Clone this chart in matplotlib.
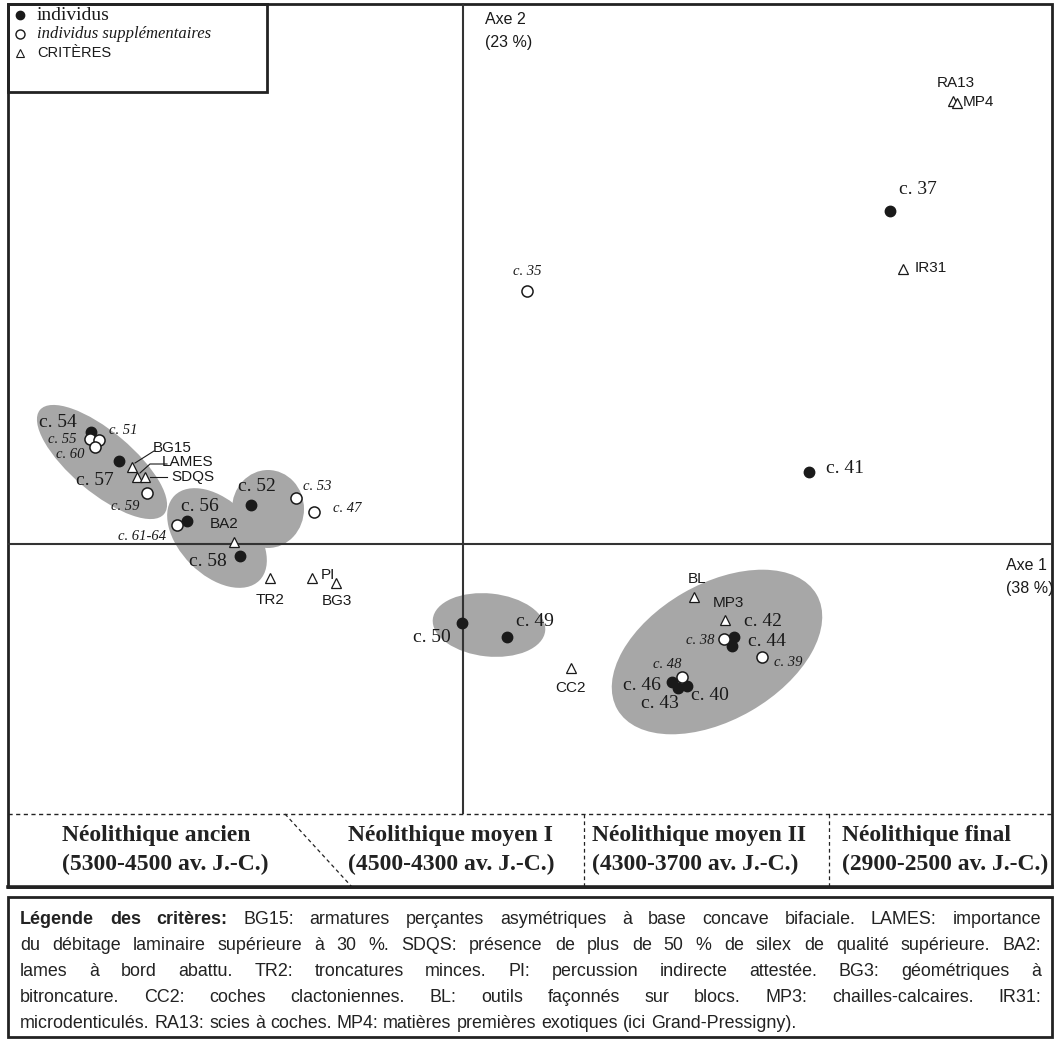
import matplotlib
matplotlib.use('Agg')
import matplotlib.pyplot as plt
from matplotlib.patches import Ellipse, Rectangle

# ---------------- data (factor scores, axis units) ----------------
ind_names = ['c. 37', 'c. 41', 'c. 54', 'c. 57', 'c. 56', 'c. 52', 'c. 58', 'c. 50', 'c. 49',
             'c. 42', 'c. 44', 'c. 46', 'c. 43', 'c. 40']
ind_x = [4.27, 3.46, -3.72, -3.44, -2.76, -2.12, -2.23, -0.01, 0.44, 2.71, 2.69, 2.09, 2.15, 2.24]
ind_y = [3.33, 0.72, 1.12, 0.83, 0.23, 0.39, -0.12, -0.79, -0.93, -0.93, -1.02, -1.38, -1.44, -1.42]

sup_names = ['c. 35', 'c. 55', 'c. 51', 'c. 60', 'c. 59', 'c. 53', 'c. 47', 'c. 61-64',
             'c. 38', 'c. 39', 'c. 48']
sup_x = [0.64, -3.73, -3.64, -3.68, -3.16, -1.67, -1.49, -2.86, 2.61, 2.99, 2.19]
sup_y = [2.53, 1.05, 1.04, 0.97, 0.51, 0.46, 0.32, 0.19, -0.95, -1.13, -1.33]

crit_names = ['BG15', 'LAMES', 'SDQS', 'BA2', 'TR2', 'PI', 'BG3', 'CC2', 'BL', 'MP3',
              'IR31', 'RA13', 'MP4']
crit_x = [-3.31, -3.26, -3.18, -2.29, -1.93, -1.51, -1.27, 1.08, 2.31, 2.62, 4.40, 4.90, 4.94]
crit_y = [0.77, 0.67, 0.67, 0.02, -0.34, -0.34, -0.39, -1.24, -0.53, -0.76, 2.75, 4.43, 4.41]

axis1_label = ['Axe 1', '(38 %)']
axis2_label = ['Axe 2', '(23 %)']

periods = ['Néolithique ancien', 'Néolithique moyen I', 'Néolithique moyen II', 'Néolithique final']
period_dates = ['(5300-4500 av. J.-C.)', '(4500-4300 av. J.-C.)', '(4300-3700 av. J.-C.)',
                '(2900-2500 av. J.-C.)']

legend_labels = ['individus', 'individus supplémentaires', 'CRITÈRES']

caption_head = 'Légende des critères:'
caption_lines = [
    'Légende des critères: BG15: armatures perçantes asymétriques à base concave bifaciale. LAMES: importance',
    'du débitage laminaire supérieure à 30 %. SDQS: présence de plus de 50 % de silex de qualité supérieure. BA2:',
    'lames à bord abattu. TR2: troncatures minces. PI: percussion indirecte attestée. BG3: géométriques à',
    'bitroncature. CC2: coches clactoniennes. BL: outils façonnés sur blocs. MP3: chailles-calcaires. IR31:',
    'microdenticulés. RA13: scies à coches. MP4: matières premières exotiques (ici Grand-Pressigny).',
]

# ---------------- layout / style ----------------
W, H = 1055, 1039
SERIF = 'Liberation Serif'
SANS = 'Liberation Sans'
INK = '#1a1a1a'
GREY = '#a7a7a7'

# label offsets in pixels (dx, dy with dy up)
ind_off = {'c. 37': (28, 21), 'c. 41': (36, 3), 'c. 54': (-33, 9), 'c. 57': (-24, -20),
           'c. 56': (13, 14), 'c. 52': (6, 18), 'c. 58': (-32, -6), 'c. 50': (-30, -15),
           'c. 49': (28, 15), 'c. 42': (29, 15), 'c. 44': (35, 5), 'c. 46': (-30, -3),
           'c. 43': (-18, -16), 'c. 40': (23, -9)}
sup_off = {'c. 35': (0, 19), 'c. 55': (-28, -1), 'c. 51': (24, 9), 'c. 60': (-25, -8),
           'c. 59': (-22, -14), 'c. 53': (21, 11), 'c. 47': (33, 3), 'c. 61-64': (-35, -12),
           'c. 38': (-24, -1), 'c. 39': (26, -5), 'c. 48': (-15, 12)}
crit_off = {'BG15': (40, 19), 'LAMES': (51, 15), 'SDQS': (48, 0), 'BA2': (-10, 18),
            'TR2': (0, -22), 'PI': (16, 3), 'BG3': (1, -18), 'CC2': (0, -20), 'BL': (3, 18),
            'MP3': (3, 17), 'IR31': (28, 1), 'RA13': (3, 18), 'MP4': (21, 1)}

# grey groupings (centre x, centre y, width, height, angle) in axis units
groups = [(-3.61, 0.82, 1.62, 0.61, -40), (-2.46, 0.06, 1.20, 0.74, -45),
          (-1.95, 0.35, 0.72, 0.78, 0), (0.26, -0.81, 1.13, 0.63, -6),
          (2.54, -1.08, 2.30, 1.36, 30)]

fig = plt.figure(figsize=(W / 100, H / 100), dpi=100)
bg = fig.add_axes([0, 0, 1, 1])
bg.set_xlim(0, W)
bg.set_ylim(H, 0)
bg.axis('off')

L, R, T, B = 8, 1052, 3, 814
ax = fig.add_axes([L / W, (H - B) / H, (R - L) / W, (B - T) / H])
ax.set_xlim(-4.55, 5.89)
ax.set_ylim(-2.70, 5.41)
ax.axis('off')

for cx, cy, w, h, a in groups:
    ax.add_patch(Ellipse((cx, cy), w, h, angle=a, facecolor=GREY, edgecolor='none', zorder=1))

ax.axhline(0, color='#333333', lw=1.5, zorder=2)
ax.axvline(0, color='#333333', lw=1.5, zorder=2)

ax.plot(ind_x, ind_y, 'o', ms=7.5, color=INK, zorder=4, ls='none')
ax.plot(sup_x, sup_y, 'o', ms=8, mfc='white', mec=INK, mew=1.1, zorder=5, ls='none')
ax.plot(crit_x, crit_y, '^', ms=7, mfc='white', mec=INK, mew=0.9, zorder=5, ls='none')

for n, x, y in zip(ind_names, ind_x, ind_y):
    ax.annotate(n, (x, y), xytext=ind_off[n], textcoords='offset pixels', ha='center',
                va='center', fontsize=14, family=SERIF, color=INK, zorder=6)
for n, x, y in zip(sup_names, sup_x, sup_y):
    ax.annotate(n, (x, y), xytext=sup_off[n], textcoords='offset pixels', ha='center',
                va='center', fontsize=10.5, family=SERIF, style='italic', color=INK, zorder=6)
for n, x, y in zip(crit_names, crit_x, crit_y):
    ax.annotate(n, (x, y), xytext=crit_off[n], textcoords='offset pixels', ha='center',
                va='center', fontsize=11, family=SANS, color=INK, zorder=6)

# leader lines for the crowded criteria
def leader(name, pts):
    i = crit_names.index(name)
    x0, y0 = crit_x[i], crit_y[i]
    xs = [x0 + dx / 100 for dx, dy in pts]
    ys = [y0 + dy / 100 for dx, dy in pts]
    ax.plot(xs, ys, color=INK, lw=0.8, zorder=6)

leader('BG15', [(3, 4), (22, 16)])
leader('LAMES', [(3, 4), (13, 13), (30, 13)])
leader('SDQS', [(5, 0), (22, 0)])

# axis titles
bg.text(485, 20, axis2_label[0], fontsize=11.5, family=SANS, color=INK, va='center')
bg.text(485, 43, axis2_label[1], fontsize=11.5, family=SANS, color=INK, va='center')
bg.text(1006, 565, axis1_label[0], fontsize=11.5, family=SANS, color=INK, va='center')
bg.text(1006, 588, axis1_label[1], fontsize=11.5, family=SANS, color=INK, va='center')

# frames
bg.add_patch(Rectangle((L, 4), R - L, 883, fill=False, lw=2, ec='#222222'))
bg.plot([L, R], [887, 887], color='#222222', lw=2.6)
bg.plot([L, R], [B, B], color='#222222', lw=1, ls=(0, (3, 2.5)))
bg.plot([285, 352], [B, 887], color='#222222', lw=0.9, ls=(0, (3, 2.5)))
bg.plot([584, 584], [B, 887], color='#222222', lw=0.9, ls=(0, (3, 2.5)))
bg.plot([829, 829], [B, 887], color='#222222', lw=0.9, ls=(0, (3, 2.5)))

# legend box
bg.add_patch(Rectangle((L, 4), 259, 88, fill=False, lw=2, ec='#222222', zorder=7))
bg.plot([20], [15], 'o', ms=6, color=INK)
bg.plot([20], [34], 'o', ms=6.5, mfc='white', mec=INK, mew=1)
bg.plot([20], [53], '^', ms=6, mfc='white', mec=INK, mew=0.8)
bg.text(37, 15, legend_labels[0], fontsize=14, family=SERIF, color=INK, va='center')
bg.text(37, 34, legend_labels[1], fontsize=12, family=SERIF, style='italic', color=INK, va='center')
bg.text(37, 53, legend_labels[2], fontsize=10.5, family=SANS, color=INK, va='center')

# period band
px = [62, 348, 592, 842]
for x, p, d in zip(px, periods, period_dates):
    bg.text(x, 841, p, fontsize=17, family=SERIF, weight='bold', color='#222222', va='baseline')
    bg.text(x, 870, d, fontsize=17, family=SERIF, weight='bold', color='#222222', va='baseline')

# caption box with justified text
bg.add_patch(Rectangle((L, 897), R - L, 140, fill=False, lw=2, ec='#222222'))
renderer = fig.canvas.get_renderer()
head_words = caption_head.split(' ')
CAP_FS = 12.9

def place_line(line, yb, x0, x1, fs, justify, first):
    words = line.split(' ')
    texts = []
    for k, wd in enumerate(words):
        bold = first and k < len(head_words)
        t = bg.text(0, yb, wd, fontsize=fs, family=SANS, color='#222222', va='baseline',
                    weight='bold' if bold else 'normal')
        texts.append(t)
    widths = [t.get_window_extent(renderer).width for t in texts]
    if justify:
        gap = (x1 - x0 - sum(widths)) / (len(words) - 1)
    else:
        sp = bg.text(0, yb, 'a a', fontsize=fs, family=SANS)
        sp2 = bg.text(0, yb, 'aa', fontsize=fs, family=SANS)
        gap = sp.get_window_extent(renderer).width - sp2.get_window_extent(renderer).width
        sp.remove(); sp2.remove()
    x = x0
    for t, w in zip(texts, widths):
        t.set_x(x)
        x += w + gap

cap_base = [924, 950, 976, 1002, 1028]
for i, (line, yb) in enumerate(zip(caption_lines, cap_base)):
    place_line(line, yb, 20, 1041, CAP_FS, i < len(caption_lines) - 1, i == 0)

fig.savefig('out.png', dpi=100)
